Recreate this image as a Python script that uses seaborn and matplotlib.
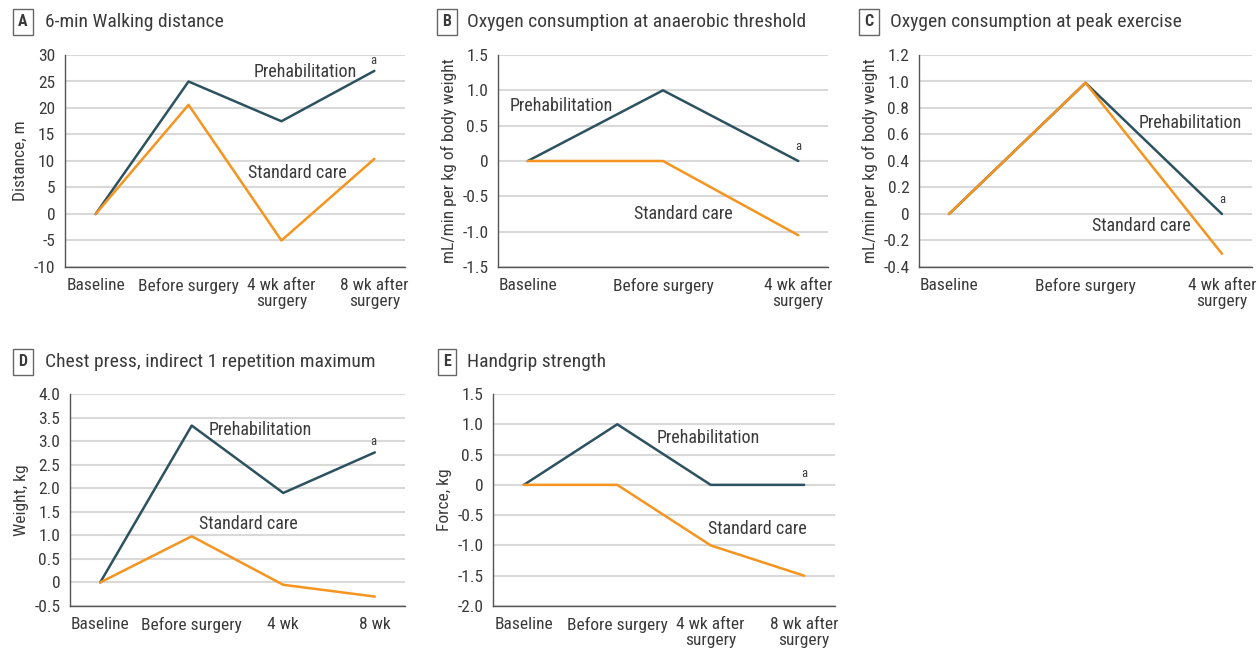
import numpy as np
import pandas as pd
import matplotlib
matplotlib.use("Agg")
import matplotlib.pyplot as plt
import seaborn as sns

# colours and styling
PREHAB_COLOR = "#2c5260"
STD_COLOR = "#f5941f"
TEXT_COLOR = "#3a3a3a"
GRID_COLOR = "#d9d9d9"

# data
timepoints_4 = ["Baseline", "Before surgery", "4 wk after\nsurgery", "8 wk after\nsurgery"]
timepoints_3 = ["Baseline", "Before surgery", "4 wk after\nsurgery"]
timepoints_d = ["Baseline", "Before surgery", "4 wk", "8 wk"]

walk_prehab = [0, 25.0, 17.5, 27.0]
walk_std = [0, 20.6, -5.0, 10.4]

at_prehab = [0, 1.0, 0.0]
at_std = [0, 0.0, -1.05]

peak_prehab = [0, 0.99, 0.0]
peak_std = [0, 0.99, -0.3]

chest_prehab = [0, 3.33, 1.9, 2.76]
chest_std = [0, 0.98, -0.05, -0.3]

grip_prehab = [0, 1.0, 0.0, 0.0]
grip_std = [0, 0.0, -1.0, -1.5]

sns.set_theme(style="white")
plt.rcParams["font.family"] = ["Roboto Condensed", "Roboto", "DejaVu Sans"]
plt.rcParams["axes.unicode_minus"] = False
plt.rcParams["text.color"] = TEXT_COLOR


def fmt_tick(v, decimals):
    if abs(v) < 1e-9:
        return "0"
    return f"{v:.{decimals}f}"


def draw_panel(fig, rect, letter, title, cats, prehab, std, ylim, ystep,
               decimals, ylabel, prehab_xy, std_xy, a_xy, box_px, title_px):
    ax = fig.add_axes(rect)
    df = pd.DataFrame({
        "x": list(range(len(cats))) * 2,
        "value": list(prehab) + list(std),
        "group": ["Prehabilitation"] * len(cats) + ["Standard care"] * len(cats),
    })
    sns.lineplot(data=df, x="x", y="value", hue="group", ax=ax,
                 palette={"Prehabilitation": PREHAB_COLOR, "Standard care": STD_COLOR},
                 hue_order=["Prehabilitation", "Standard care"],
                 linewidth=1.8, legend=False, zorder=3)
    # orange line drawn on top, as in the reference
    for line in ax.get_lines():
        if matplotlib.colors.to_hex(line.get_color()) == STD_COLOR:
            line.set_zorder(4)

    n = len(cats)
    pad = 0.33 if n == 4 else 0.22
    ax.set_xlim(-pad, n - 1 + pad)
    ax.set_ylim(*ylim)
    yt = np.arange(ylim[0], ylim[1] + ystep / 2, ystep)
    ax.set_yticks(yt)
    ax.set_yticklabels([fmt_tick(v, decimals) for v in yt])
    ax.set_xticks(range(n))
    ax.set_xticklabels(cats, linespacing=1.05)
    ax.set_xlabel("")
    ax.set_ylabel(ylabel, fontsize=12.5, color=TEXT_COLOR, labelpad=4)
    ax.yaxis.grid(True, color=GRID_COLOR, linewidth=1.5, zorder=0)
    ax.set_axisbelow(True)
    for s in ["top", "right"]:
        ax.spines[s].set_visible(False)
    for s in ["left", "bottom"]:
        ax.spines[s].set_color("#555555")
        ax.spines[s].set_linewidth(1.0)
    ax.tick_params(axis="both", direction="out", length=5, width=1.0,
                   color="#555555", labelsize=12.5, labelcolor=TEXT_COLOR, pad=3)
    ax.tick_params(axis="y", pad=2)

    ax.text(*prehab_xy, "Prehabilitation", fontsize=13, ha="center", va="center", color=TEXT_COLOR)
    ax.text(*std_xy, "Standard care", fontsize=13, ha="center", va="center", color=TEXT_COLOR)
    ax.text(*a_xy, "a", fontsize=9, ha="center", va="center", color=TEXT_COLOR)

    W, H = fig.get_size_inches() * fig.dpi
    fig.text(box_px[0] / W, 1 - box_px[1] / H, letter, fontsize=11.5, fontweight="bold",
             ha="center", va="center", color=TEXT_COLOR,
             bbox=dict(boxstyle="square,pad=0.35", fc="white", ec="#666666", lw=1.0))
    fig.text(title_px[0] / W, 1 - title_px[1] / H, title, fontsize=14,
             ha="left", va="center", color=TEXT_COLOR)
    return ax


fig = plt.figure(figsize=(12.6, 6.48), dpi=100)
W, H = 1260, 648


def rect(l, r, t, b):
    return [l / W, 1 - b / H, (r - l) / W, (b - t) / H]


draw_panel(fig, rect(65, 405, 55, 267), "A", "6-min Walking distance",
           timepoints_4, walk_prehab, walk_std, (-10, 30), 5, 0, "Distance, m",
           (2.26, 26.8), (2.17, 7.7), (2.99, 28.9), (23, 22), (45, 22))

draw_panel(fig, rect(498, 828, 55, 267), "B", "Oxygen consumption at anaerobic threshold",
           timepoints_3, at_prehab, at_std, (-1.5, 1.5), 0.5, 1,
           "mL/min per kg of body weight",
           (0.25, 0.78), (1.15, -0.75), (2.0, 0.2), (447, 22), (467, 22))

draw_panel(fig, rect(919, 1252, 55, 267), "C", "Oxygen consumption at peak exercise",
           timepoints_3, peak_prehab, peak_std, (-0.4, 1.2), 0.2, 1,
           "mL/min per kg of body weight",
           (1.77, 0.69), (1.41, -0.09), (2.0, 0.11), (869, 22), (890, 22))

draw_panel(fig, rect(70, 405, 394, 606), "D", "Chest press, indirect 1 repetition maximum",
           timepoints_d, chest_prehab, chest_std, (-0.5, 4.0), 0.5, 1, "Weight, kg",
           (1.75, 3.24), (1.62, 1.24), (2.98, 3.0), (23, 362), (45, 362))

draw_panel(fig, rect(493, 835, 394, 606), "E", "Handgrip strength",
           timepoints_4, grip_prehab, grip_std, (-2.0, 1.5), 0.5, 1, "Force, kg",
           (1.97, 0.77), (2.5, -0.73), (3.0, 0.18), (447, 362), (467, 362))

fig.savefig("out.png", dpi=100, facecolor="white")
